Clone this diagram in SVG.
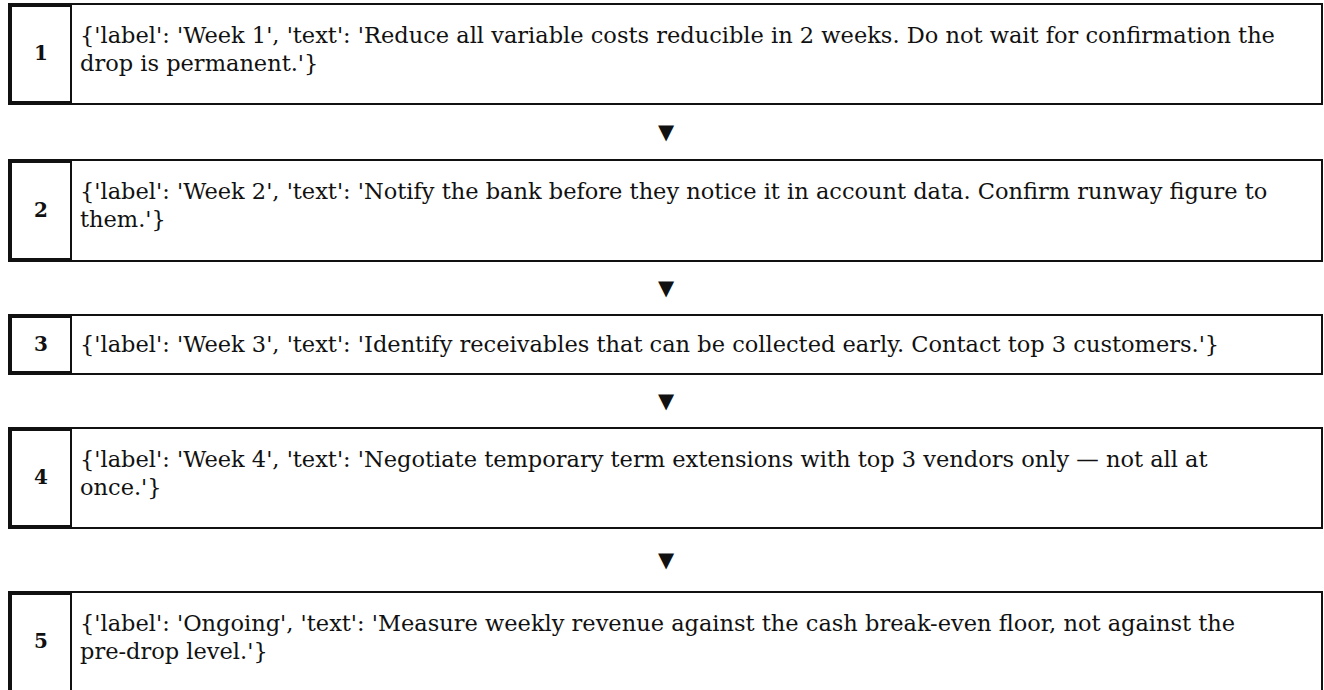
<svg xmlns="http://www.w3.org/2000/svg" width="1324" height="690" viewBox="0 0 1324 690">
  <style>
    .row { fill: #ffffff; stroke: #111111; stroke-width: 2; }
    .num-cell { fill: #ffffff; stroke: #111111; stroke-width: 2; }
    .num { font-family: "DejaVu Serif", "Liberation Serif", serif; font-size: 20px; font-weight: bold; fill: #111111; text-anchor: middle; }
    .txt { font-family: "DejaVu Serif", "Liberation Serif", serif; font-size: 22.5px; fill: #111111; }
    .arrow { font-family: "DejaVu Sans", sans-serif; font-size: 21px; fill: #111111; text-anchor: middle; }
  </style>
  <rect width="1324" height="690" fill="#ffffff"/>

  <g id="step1">
    <rect class="row" x="9" y="4" width="1313" height="100"/>
    <rect class="num-cell" x="11" y="6" width="60" height="96"/>
    <text class="num" x="41" y="60">1</text>
    <text class="txt" x="80" y="43">{'label': 'Week 1', 'text': 'Reduce all variable costs reducible in 2 weeks. Do not wait for confirmation the</text>
    <text class="txt" x="80" y="71">drop is permanent.'}</text>
  </g>

  <g id="step2">
    <rect class="row" x="9" y="160" width="1313" height="101"/>
    <rect class="num-cell" x="11" y="162" width="60" height="97"/>
    <text class="num" x="41" y="217">2</text>
    <text class="txt" x="80" y="199">{'label': 'Week 2', 'text': 'Notify the bank before they notice it in account data. Confirm runway figure to</text>
    <text class="txt" x="80" y="227">them.'}</text>
  </g>

  <g id="step3">
    <rect class="row" x="9" y="315" width="1313" height="59"/>
    <rect class="num-cell" x="11" y="317" width="60" height="55"/>
    <text class="num" x="41" y="351">3</text>
    <text class="txt" x="80" y="352">{'label': 'Week 3', 'text': 'Identify receivables that can be collected early. Contact top 3 customers.'}</text>
  </g>

  <g id="step4">
    <rect class="row" x="9" y="428" width="1313" height="100"/>
    <rect class="num-cell" x="11" y="430" width="60" height="96"/>
    <text class="num" x="41" y="484">4</text>
    <text class="txt" x="80" y="467">{'label': 'Week 4', 'text': 'Negotiate temporary term extensions with top 3 vendors only — not all at</text>
    <text class="txt" x="80" y="495">once.'}</text>
  </g>

  <g id="step5">
    <rect class="row" x="9" y="592" width="1313" height="101"/>
    <rect class="num-cell" x="11" y="594" width="60" height="97"/>
    <text class="num" x="41" y="648">5</text>
    <text class="txt" x="80" y="631">{'label': 'Ongoing', 'text': 'Measure weekly revenue against the cash break-even floor, not against the</text>
    <text class="txt" x="80" y="659">pre-drop level.'}</text>
  </g>

  <g id="connectors">
    <text class="arrow" x="666" y="139">▼</text>
    <text class="arrow" x="666" y="295">▼</text>
    <text class="arrow" x="666" y="408">▼</text>
    <text class="arrow" x="666" y="567">▼</text>
  </g>
</svg>
